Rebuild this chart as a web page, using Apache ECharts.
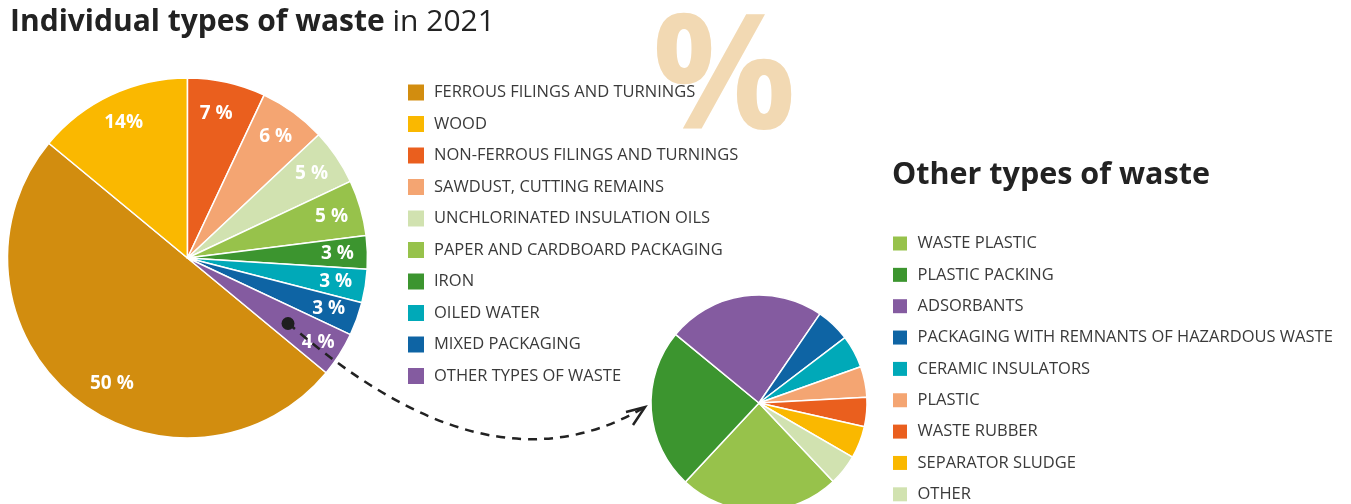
<!DOCTYPE html>
<html>
<head>
<meta charset="utf-8">
<script src="https://cdn.jsdelivr.net/npm/echarts@6/dist/echarts.min.js"></script>
<style>
  html, body { margin: 0; padding: 0; background: #fff; }
  #chart { width: 1351px; height: 504px; }
</style>
</head>
<body>
<div id="chart"></div>
<script>
// Waste composition 2021 (shares in %)
const mainNames = [
  'FERROUS FILINGS AND TURNINGS',
  'WOOD',
  'NON-FERROUS FILINGS AND TURNINGS',
  'SAWDUST, CUTTING REMAINS',
  'UNCHLORINATED INSULATION OILS',
  'PAPER AND CARDBOARD PACKAGING',
  'IRON',
  'OILED WATER',
  'MIXED PACKAGING',
  'OTHER TYPES OF WASTE'
];
const mainShares = [50, 14, 7, 6, 5, 5, 3, 3, 3, 4];
const mainColors = ['#D28D0F', '#FAB800', '#EA5F1E', '#F4A572', '#D1E2B0',
                    '#97C24B', '#3C952F', '#00A9B8', '#0E64A4', '#845BA0'];

// Breakdown of "other types of waste" (approximate shares in %)
const otherNames = [
  'WASTE PLASTIC',
  'PLASTIC PACKING',
  'ADSORBANTS',
  'PACKAGING WITH REMNANTS OF HAZARDOUS WASTE',
  'CERAMIC INSULATORS',
  'PLASTIC',
  'WASTE RUBBER',
  'SEPARATOR SLUDGE',
  'OTHER'
];
const otherShares = [24, 24, 23.6, 5.1, 4.9, 4.6, 4.4, 4.8, 4.6];
const otherColors = ['#97C24B', '#3C952F', '#845BA0', '#0E64A4', '#00A9B8',
                     '#F4A572', '#EA5F1E', '#FAB800', '#D1E2B0'];

const FONT = '"Open Sans", "Noto Sans", sans-serif';

const mainData = mainNames.map((n, i) => ({ name: n, value: mainShares[i], itemStyle: { color: mainColors[i] } }));
const otherData = otherNames.map((n, i) => ({ name: n, value: otherShares[i], itemStyle: { color: otherColors[i] } }));

const chart = echarts.init(document.getElementById('chart'), null, { renderer: 'canvas' });

const legendText = (pad) => ({
  color: '#3a3a3a',
  fontFamily: FONT,
  fontSize: 16.5,
  lineHeight: 16,
  padding: [0, 0, 0, pad]
});

// small nudges for a few value labels (by data index)
const labelNudge = { 0: { dx: 20, dy: 10 }, 2: { dx: -4, dy: 2 }, 9: { dx: 4, dy: 4 } };

chart.setOption({
  backgroundColor: '#fff',
  animation: false,
  title: [
    {
      left: 10, top: 7, padding: 0,
      text: '{b|Individual types of waste}{r| in 2021}',
      textStyle: {
        rich: {
          b: { fontFamily: FONT, fontWeight: 'bold', fontSize: 30, lineHeight: 30, color: '#222' },
          r: { fontFamily: FONT, fontWeight: 'normal', fontSize: 30, lineHeight: 30, color: '#222' }
        }
      }
    },
    {
      left: 892, top: 160, padding: 0,
      text: 'Other types of waste',
      textStyle: { fontFamily: FONT, fontWeight: 'bold', fontSize: 30.5, lineHeight: 30, color: '#222' }
    }
  ],
  legend: [
    {
      orient: 'vertical', left: 408, top: 84, height: 320, padding: 0,
      data: mainNames, selectedMode: false,
      icon: 'rect', itemWidth: 16, itemHeight: 16, itemGap: 14.5,
      itemStyle: { borderWidth: 0 },
      textStyle: legendText(5)
    },
    {
      orient: 'vertical', left: 893, top: 235, height: 290, padding: 0,
      data: otherNames, selectedMode: false,
      icon: 'rect', itemWidth: 14, itemHeight: 14, itemGap: 14.35,
      itemStyle: { borderWidth: 0 },
      textStyle: legendText(5.5)
    }
  ],
  graphic: [
    {
      type: 'text', z: 0, silent: true,
      x: 652, y: 83.5,
      style: {
        text: '%', fill: '#F2D9B3',
        font: 'bold 160px ' + FONT,
        verticalAlign: 'middle', align: 'left'
      }
    },
    {
      // dashed pointer from the "other" slice to the breakdown pie
      type: 'bezierCurve', z: 20, silent: true,
      shape: { x1: 288, y1: 323, cpx1: 418, cpy1: 436, cpx2: 535, cpy2: 472, x2: 645, y2: 407 },
      style: { fill: null, stroke: '#222', lineWidth: 2.5, lineDash: [9, 7] }
    },
    {
      type: 'polyline', z: 20, silent: true,
      shape: { points: [[626, 412], [645, 407], [633, 425]] },
      style: { fill: null, stroke: '#222', lineWidth: 2.5 }
    },
    {
      type: 'circle', z: 21, silent: true,
      shape: { cx: 288, cy: 323.5, r: 6.5 },
      style: { fill: '#1e1e1e' }
    }
  ],
  series: [
    {
      type: 'pie', name: 'main',
      center: [187.5, 258], radius: [0, 180],
      startAngle: -39.6, clockwise: true,
      silent: true,
      label: { show: false }, labelLine: { show: false },
      itemStyle: { borderColor: '#fff', borderWidth: 1.5 },
      emphasis: { disabled: true },
      data: mainData
    },
    {
      // transparent ring that carries the value labels near the rim
      type: 'pie', name: 'mainLabels',
      center: [187.5, 258], radius: [114, 180],
      startAngle: -39.6, clockwise: true,
      silent: true, z: 3,
      itemStyle: { color: 'rgba(0,0,0,0)', borderWidth: 0 },
      labelLine: { show: false },
      label: {
        show: true, position: 'inside',
        color: '#fff', fontFamily: FONT, fontWeight: 'bold', fontSize: 19,
        formatter: p => p.name === 'WOOD' ? p.value + '%' : p.value + ' %'
      },
      labelLayout: p => labelNudge[p.dataIndex] || {},
      emphasis: { disabled: true },
      data: mainNames.map((n, i) => ({ name: n, value: mainShares[i] }))
    },
    {
      type: 'pie', name: 'other',
      center: [759, 403], radius: [0, 108],
      startAngle: -46.6, clockwise: true,
      silent: true,
      label: { show: false }, labelLine: { show: false },
      itemStyle: { borderColor: '#fff', borderWidth: 1.5 },
      emphasis: { disabled: true },
      data: otherData
    }
  ]
});
</script>
</body>
</html>
